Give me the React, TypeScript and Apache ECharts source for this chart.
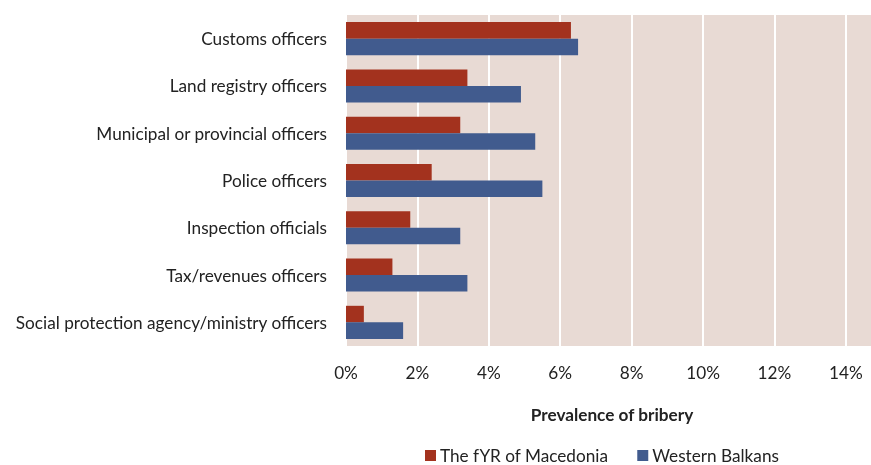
import React, { useEffect, useRef } from "react";
import * as echarts from "echarts";

const categories = [
  "Customs officers",
  "Land registry officers",
  "Municipal or provincial officers",
  "Police officers",
  "Inspection officials",
  "Tax/revenues officers",
  "Social protection agency/ministry officers",
];
const macedonia = [6.3, 3.4, 3.2, 2.4, 1.8, 1.3, 0.5];
const westernBalkans = [6.5, 4.9, 5.3, 5.5, 3.2, 3.4, 1.6];
const seriesNames = ["The fYR of Macedonia", "Western Balkans"];

const FONT = "Lato";
const FS = 17.2;

export default function App() {
  const ref = useRef<HTMLDivElement>(null);
  useEffect(() => {
    document.documentElement.style.overflow = "hidden";
    document.body.style.overflow = "hidden";
    document.body.style.margin = "0";
    if (!ref.current) return;
    const chart = echarts.init(ref.current, null, { renderer: "svg" });
    chart.setOption({
      animation: false,
      textStyle: { fontFamily: FONT },
      grid: {
        left: 346,
        top: 15,
        width: 540,
        bottom: 119,
        show: true,
        backgroundColor: "#E8DAD4",
        borderWidth: 0,
      },
      legend: {
        data: seriesNames,
        left: 425,
        top: 447,
        padding: 0,
        itemWidth: 11,
        itemHeight: 11,
        itemGap: 29,
        icon: "rect",
        textStyle: {
          fontFamily: FONT,
          fontSize: FS,
          lineHeight: 17,
          color: "#222",
          padding: [0, 0, 0, -1],
        },
      },
      xAxis: {
        type: "value",
        min: 0,
        max: 15.04,
        interval: 2,
        axisLine: { show: false },
        axisTick: { show: false },
        splitLine: { show: true, lineStyle: { color: "#ffffff", width: 2 } },
        axisLabel: {
          fontFamily: FONT,
          fontSize: FS,
          color: "#222",
          margin: 18,
          formatter: (v: number) =>
            Math.abs(v / 2 - Math.round(v / 2)) < 1e-6 ? v + "%" : "",
        },
        name: "Prevalence of bribery",
        nameLocation: "middle",
        nameGap: 60,
        nameTextStyle: {
          fontFamily: FONT,
          fontSize: FS,
          fontWeight: "bold",
          color: "#222",
          padding: [0, 5, 0, 0],
        },
      },
      yAxis: {
        type: "category",
        data: categories,
        inverse: true,
        axisLine: { show: false },
        axisTick: { show: false },
        axisLabel: {
          fontFamily: FONT,
          fontSize: FS,
          color: "#222",
          margin: 19,
        },
      },
      series: [
        {
          name: seriesNames[0],
          type: "bar",
          data: macedonia,
          barWidth: "35%",
          barGap: "0%",
          itemStyle: { color: "#A3321E" },
        },
        {
          name: seriesNames[1],
          type: "bar",
          data: westernBalkans,
          barWidth: "35%",
          barGap: "0%",
          itemStyle: { color: "#415B8E" },
        },
      ],
    });
    return () => chart.dispose();
  }, []);
  return (
    <div
      ref={ref}
      style={{ position: "fixed", left: 0, top: 0, width: 886, height: 465 }}
    />
  );
}
